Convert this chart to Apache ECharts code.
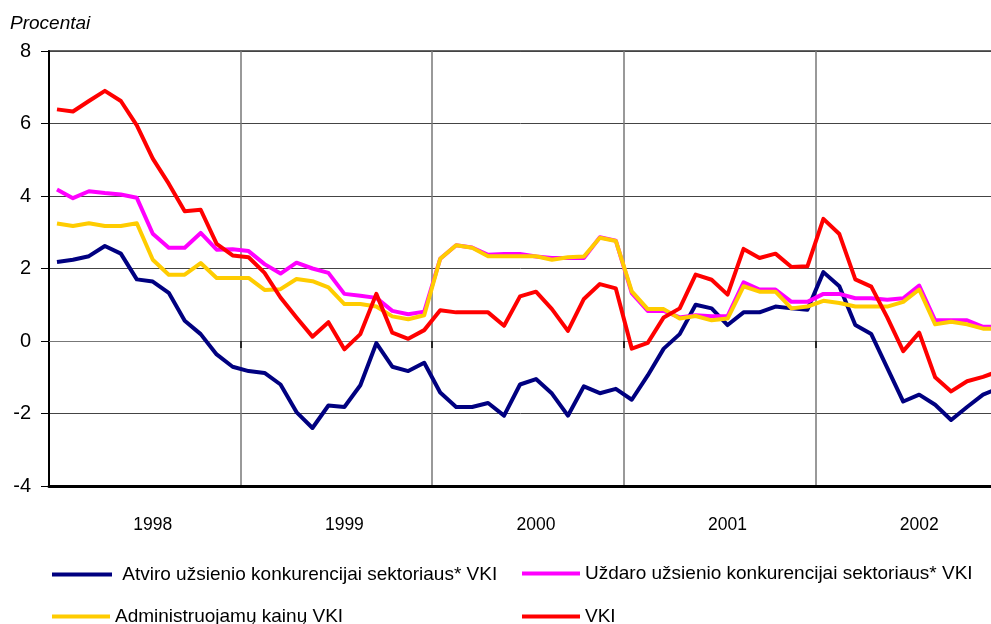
<!DOCTYPE html>
<html>
<head>
<meta charset="utf-8">
<script src="https://cdn.jsdelivr.net/npm/echarts@6/dist/echarts.min.js"></script>
<style>
  html, body { margin: 0; padding: 0; background: #fff; }
  #chart { width: 991px; height: 624px; }
</style>
</head>
<body>
<div id="chart"></div>
<script>
// monthly, Jan 1998 .. Dec 2002 (last month runs past the right edge)
const years = ['1998', '1999', '2000', '2001', '2002']
const months = ['01', '02', '03', '04', '05', '06', '07', '08', '09', '10', '11', '12']
const yTicks = [-4, -2, 0, 2, 4, 6, 8]

const seriesNames = [
  'Atviro užsienio konkurencijai sektoriaus* VKI',
  'Uždaro užsienio konkurencijai sektoriaus* VKI',
  'Administruojamų kainų VKI',
  'VKI'
]

const openSector = [
  2.18, 2.24, 2.34, 2.62, 2.41, 1.70, 1.64, 1.33, 0.56, 0.19, -0.37, -0.71,
  -0.83, -0.88, -1.20, -1.96, -2.40, -1.78, -1.82, -1.22, -0.06, -0.71, -0.83, -0.60,
  -1.42, -1.82, -1.82, -1.71, -2.06, -1.20, -1.05, -1.45, -2.06, -1.25, -1.44, -1.32,
  -1.62, -0.95, -0.21, 0.19, 1.00, 0.90, 0.44, 0.79, 0.79, 0.95, 0.90, 0.86,
  1.90, 1.51, 0.44, 0.19, -0.74, -1.67, -1.48, -1.76, -2.18, -1.82, -1.48, -1.30
]
const closedSector = [
  4.18, 3.94, 4.13, 4.08, 4.04, 3.95, 2.96, 2.57, 2.57, 2.98, 2.52, 2.53,
  2.48, 2.12, 1.86, 2.16, 2.00, 1.88, 1.30, 1.25, 1.19, 0.83, 0.74, 0.81,
  2.27, 2.64, 2.58, 2.38, 2.40, 2.40, 2.33, 2.29, 2.29, 2.29, 2.86, 2.77,
  1.32, 0.83, 0.83, 0.65, 0.71, 0.68, 0.69, 1.62, 1.42, 1.42, 1.08, 1.08,
  1.30, 1.30, 1.18, 1.18, 1.14, 1.18, 1.53, 0.57, 0.57, 0.57, 0.39, 0.40
]
const administered = [
  3.24, 3.17, 3.25, 3.17, 3.17, 3.25, 2.24, 1.83, 1.83, 2.15, 1.74, 1.74,
  1.74, 1.41, 1.43, 1.71, 1.65, 1.48, 1.02, 1.02, 0.95, 0.68, 0.60, 0.71,
  2.27, 2.64, 2.57, 2.34, 2.34, 2.34, 2.34, 2.24, 2.31, 2.33, 2.85, 2.76,
  1.37, 0.88, 0.88, 0.62, 0.69, 0.57, 0.62, 1.51, 1.36, 1.36, 0.90, 0.95,
  1.11, 1.05, 0.95, 0.95, 0.95, 1.08, 1.42, 0.46, 0.53, 0.46, 0.34, 0.34
]
const cpi = [
  6.39, 6.33, 6.62, 6.90, 6.62, 5.95, 5.03, 4.34, 3.58, 3.62, 2.68, 2.36,
  2.31, 1.88, 1.20, 0.65, 0.12, 0.52, -0.23, 0.19, 1.30, 0.23, 0.06, 0.30,
  0.85, 0.79, 0.79, 0.79, 0.42, 1.23, 1.36, 0.88, 0.28, 1.16, 1.57, 1.45,
  -0.21, -0.05, 0.65, 0.90, 1.83, 1.69, 1.28, 2.54, 2.29, 2.41, 2.04, 2.06,
  3.37, 2.95, 1.70, 1.50, 0.65, -0.28, 0.23, -1.00, -1.39, -1.11, -0.99, -0.83
]

const colors = ['#000080', '#ff00ff', '#ffcc00', '#ff0000']
const seriesData = [openSector, closedSector, administered, cpi]

const categories = []
years.forEach((y) => months.forEach((m) => categories.push(y + '-' + m)))

const FONT = "'Liberation Sans', Arial, sans-serif"
const FS = 17.5

// one legend per entry so the 2x2 layout stays fixed
const legendSpots = [
  { left: 52, top: 565, w: 60 },
  { left: 522, top: 564, w: 58 },
  { left: 52, top: 607, w: 58 },
  { left: 522, top: 607, w: 58 }
]

const chart = echarts.init(document.getElementById('chart'), null, { renderer: 'canvas' })

chart.setOption({
  animation: false,
  backgroundColor: '#fff',
  title: {
    text: 'Procentai',
    left: 5,
    top: 9,
    textStyle: { fontFamily: FONT, fontStyle: 'italic', fontWeight: 'normal', fontSize: 19, color: '#000' }
  },
  grid: {
    left: 49, top: 51, width: 958, height: 435,
    outerBoundsMode: 'none',
    containLabel: false,
    show: true, borderColor: '#666', borderWidth: 2
  },
  legend: seriesNames.map((name, i) => ({
    left: legendSpots[i].left,
    top: legendSpots[i].top,
    padding: 0,
    itemWidth: legendSpots[i].w,
    itemHeight: 4,
    icon: 'rect',
    data: [name],
    formatter: (n) => (i === 0 ? ' ' + n : n),
    textStyle: { fontFamily: FONT, fontSize: 19, color: '#000' }
  })),
  xAxis: [
    {
      type: 'category',
      data: categories,
      position: 'bottom',
      boundaryGap: true,
      axisLine: { onZero: false, lineStyle: { color: '#000', width: 3 } },
      axisTick: { show: false },
      axisLabel: {
        interval: (idx) => idx % 12 === 6,
        formatter: (v) => v.slice(0, 4),
        fontFamily: FONT, fontSize: FS, color: '#000', margin: 30
      },
      splitLine: {
        show: true,
        interval: (idx) => idx % 12 === 0 && idx > 0,
        lineStyle: { color: '#777', width: 1.5 }
      }
    },
    {
      type: 'category',
      data: categories,
      position: 'bottom',
      boundaryGap: true,
      axisLine: { onZero: true, lineStyle: { color: '#777', width: 1 } },
      axisTick: {
        show: true, length: 7,
        interval: (idx) => idx % 12 === 0 && idx > 0,
        lineStyle: { color: '#000', width: 1.5 }
      },
      axisLabel: { show: false },
      splitLine: { show: false }
    }
  ],
  yAxis: {
    type: 'value',
    min: yTicks[0],
    max: yTicks[yTicks.length - 1],
    interval: 2,
    axisLine: { show: true, lineStyle: { color: '#000', width: 2 } },
    axisTick: { show: true, length: 8, lineStyle: { color: '#000', width: 1 } },
    axisLabel: { fontFamily: FONT, fontSize: 20, color: '#000', margin: 18 },
    splitLine: { lineStyle: { color: '#444', width: 1 } }
  },
  series: seriesData.map((data, i) => ({
    name: seriesNames[i],
    type: 'line',
    xAxisIndex: 0,
    data: data,
    symbol: 'none',
    color: colors[i],
    lineStyle: { color: colors[i], width: 4, join: 'round' }
  }))
})
</script>
</body>
</html>
